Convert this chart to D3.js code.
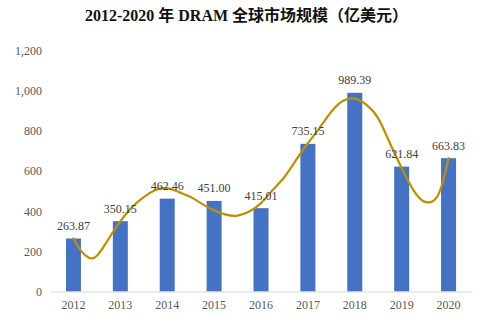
<!DOCTYPE html>
<html>
<head>
<meta charset="utf-8">
<script src="https://cdn.jsdelivr.net/npm/d3@7"></script>
<style>
  html, body { margin: 0; padding: 0; background: #fff; }
  svg { display: block; }
</style>
</head>
<body>
<svg id="chart" width="481" height="329"></svg>
<script>
// DRAM global market size, 2012-2020 (100 million USD)
const years = [2012, 2013, 2014, 2015, 2016, 2017, 2018, 2019, 2020];
const marketSize = [263.87, 350.15, 462.46, 451.00, 415.01, 735.15, 989.39, 621.84, 663.83];
const yTicks = [0, 200, 400, 600, 800, 1000, 1200];

// Smoothed trend line samples: position in years, value
const trendYears = [2012, 2012.17, 2012.33, 2012.5, 2012.75, 2013, 2013.25, 2013.5, 2013.75, 2014,
  2014.25, 2014.5, 2014.75, 2015, 2015.25, 2015.5, 2015.75, 2016, 2016.25, 2016.5, 2016.75,
  2017, 2017.25, 2017.5, 2017.75, 2018, 2018.25, 2018.5, 2018.75, 2019, 2019.25, 2019.5,
  2019.75, 2019.9, 2020];
const trendValues = [264, 200, 168, 178, 262, 349, 420, 470, 505, 515,
  495, 470, 435, 404, 383, 378, 398, 440, 505, 570, 655,
  738, 815, 895, 950, 960, 929, 862, 738, 615, 505, 446,
  470, 565, 664];

const titleText = "2012-2020 年 DRAM 全球市场规模（亿美元）";

const svg = d3.select("#chart");
const plotLeft = 50, plotRight = 472, plotTop = 50.5, plotBottom = 291.5;

const x = d3.scaleBand()
  .domain(years)
  .range([plotLeft, plotRight])
  .paddingInner(0.68)
  .paddingOuter(0.34);

const y = d3.scaleLinear()
  .domain([0, 1200])
  .range([plotBottom, plotTop]);

const xt = d3.scaleLinear()
  .domain([years[0], years[years.length - 1]])
  .range([x(years[0]) + x.bandwidth() / 2, x(years[years.length - 1]) + x.bandwidth() / 2]);

const serif = "'Liberation Serif', 'Times New Roman', 'Noto Sans CJK SC', serif";

// Title
svg.append("text")
  .attr("x", 246.5)
  .attr("y", 21)
  .attr("text-anchor", "middle")
  .style("font-family", "'Liberation Serif', 'Noto Sans CJK SC', serif")
  .style("font-weight", "bold")
  .style("font-size", "16px")
  .style("fill", "#111")
  .text(titleText);

// Y axis (labels only)
const yAxis = d3.axisLeft(y)
  .tickValues(yTicks)
  .tickSize(0)
  .tickPadding(8)
  .tickFormat(d3.format(","));

const yg = svg.append("g")
  .attr("transform", `translate(${plotLeft},0)`)
  .call(yAxis);
yg.select(".domain").remove();
yg.selectAll("text")
  .style("font-family", serif)
  .style("font-size", "12px")
  .style("fill", "#595959");

// Bars
svg.append("g")
  .selectAll("rect")
  .data(years)
  .join("rect")
  .attr("x", d => x(d))
  .attr("y", (d, i) => y(marketSize[i]))
  .attr("width", x.bandwidth())
  .attr("height", (d, i) => y(0) - y(marketSize[i]))
  .attr("fill", "#4472C4");

// X axis
const xAxis = d3.axisBottom(x)
  .tickSize(0)
  .tickPadding(9);

const xg = svg.append("g")
  .attr("transform", `translate(0,${plotBottom})`)
  .call(xAxis);
xg.select(".domain")
  .attr("stroke", "#d9d9d9")
  .attr("stroke-width", 1);
xg.selectAll("text")
  .style("font-family", serif)
  .style("font-size", "12px")
  .style("fill", "#595959");

// Trend line
const trend = d3.line()
  .x((d, i) => xt(trendYears[i]))
  .y(d => y(d))
  .curve(d3.curveNatural);

svg.append("path")
  .datum(trendValues)
  .attr("d", trend)
  .attr("fill", "none")
  .attr("stroke", "#BF9000")
  .attr("stroke-width", 2.25)
  .attr("stroke-linecap", "round");

// Value labels
svg.append("g")
  .selectAll("text")
  .data(years)
  .join("text")
  .attr("x", d => x(d) + x.bandwidth() / 2)
  .attr("y", (d, i) => y(marketSize[i]) - 8.5)
  .attr("text-anchor", "middle")
  .style("font-family", serif)
  .style("font-size", "12px")
  .style("fill", "#404040")
  .text((d, i) => marketSize[i].toFixed(2));
</script>
</body>
</html>
